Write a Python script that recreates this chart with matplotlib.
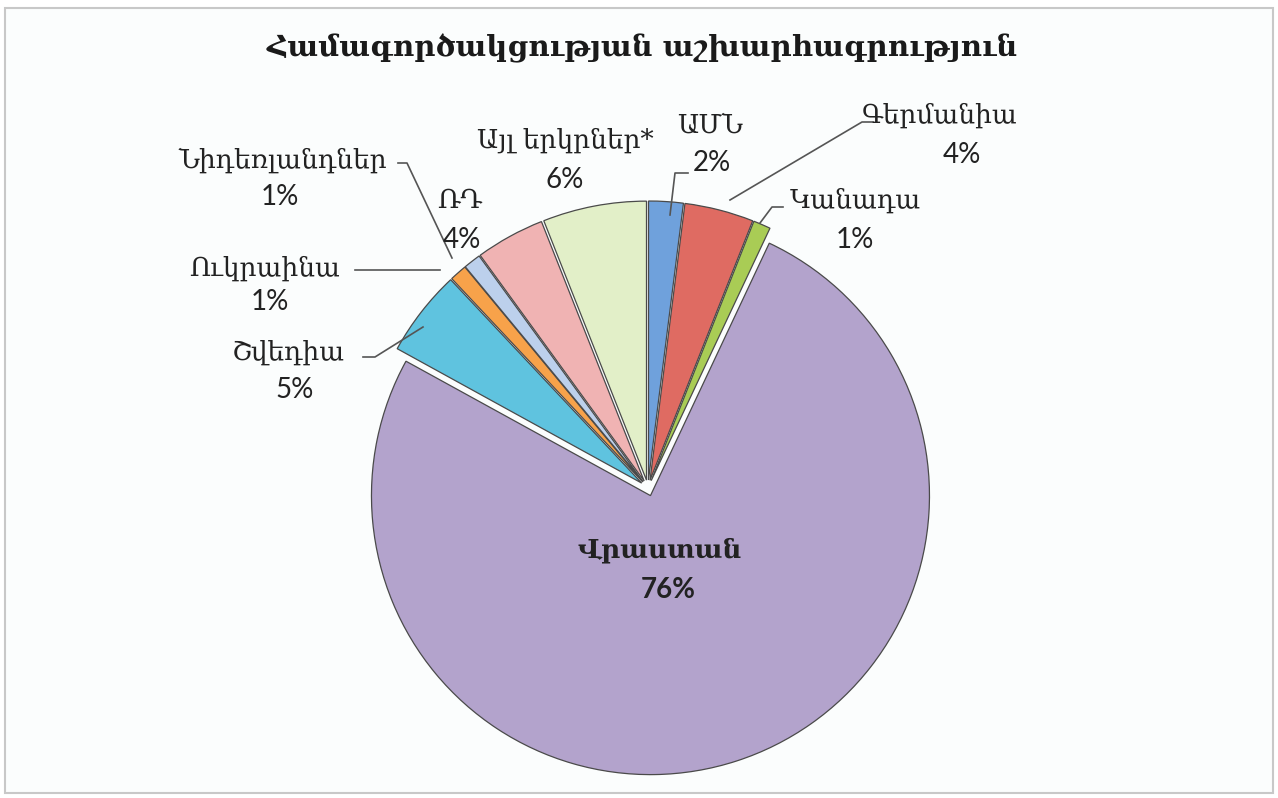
import matplotlib.pyplot as plt
from matplotlib.patches import Rectangle

# data, clockwise from the top
countries = ["ԱՄՆ", "Գերմանիա", "Կանադա", "Վրաստան", "Շվեդիա",
             "Ուկրաինա", "Նիդեռլանդներ", "ՌԴ", "Այլ երկրներ*"]
shares = [2, 4, 1, 76, 5, 1, 1, 4, 6]
colors = ["#6fa1dc", "#df6b62", "#a9cc55", "#b3a3cc", "#5fc3df",
          "#f7a24a", "#bcd0ec", "#f0b3b3", "#e2efc8"]
title = "Համագործակցության աշխարհագրություն"

# label centres (image pixels): name, then percent
name_xy = [(710, 125), (940, 115), (855, 200), (660, 550), (288, 352),
           (265, 268), (283, 160), (460, 200), (565, 140)]
pct_xy = [(712, 163), (962, 155), (855, 240), (668, 590), (295, 390),
          (270, 302), (280, 197), (462, 240), (565, 180)]
leaders = {
    0: [(688, 173), (675, 173), (670, 215)],
    1: [(873, 122), (862, 122), (730, 200)],
    2: [(783, 207), (772, 207), (760, 223)],
    4: [(363, 357), (375, 357), (423, 327)],
    5: [(355, 270), (440, 270)],
    6: [(398, 163), (407, 163), (452, 258)],
}

W, H = 1278, 798
fig = plt.figure(figsize=(12.78, 7.98), dpi=100)
fig.patch.set_facecolor("white")
ax = fig.add_axes([0, 0, 1, 1])

ax.add_patch(Rectangle((5, 5), W - 10, H - 13, facecolor="#fbfdfd",
                       edgecolor="#c8c8c8", lw=1.5, zorder=0))

# explode is in data units (pixels here)
wedges, _ = ax.pie(shares, colors=colors, startangle=90, counterclock=False,
                   center=(648, H - 488), radius=279,
                   explode=[8] * len(shares),
                   wedgeprops=dict(edgecolor="#4a4a4a", linewidth=0.9))
for w in wedges:
    w.set_zorder(2)

ax.set_xlim(0, W)
ax.set_ylim(0, H)
ax.set_aspect("equal")
ax.axis("off")

ax.text(642, H - 48, title, ha="center", va="center", fontsize=21,
        fontweight="bold", family="DejaVu Serif", color="#1a1a1a")

for i, (name, val) in enumerate(zip(countries, shares)):
    bold = "bold" if i == 3 else "normal"
    x, y = name_xy[i]
    ax.text(x, H - y, name, ha="center", va="center", fontsize=19,
            family="DejaVu Serif", fontweight=bold, color="#222222", zorder=5)
    x, y = pct_xy[i]
    ax.text(x, H - y, "%d%%" % val, ha="center", va="center", fontsize=20,
            family="Lato", fontweight=bold, color="#222222", zorder=5)

for i, pts in leaders.items():
    xs = [p[0] for p in pts]
    ys = [H - p[1] for p in pts]
    ax.plot(xs, ys, color="#555555", lw=1.2, zorder=4)

plt.savefig("out.png", dpi=100)
